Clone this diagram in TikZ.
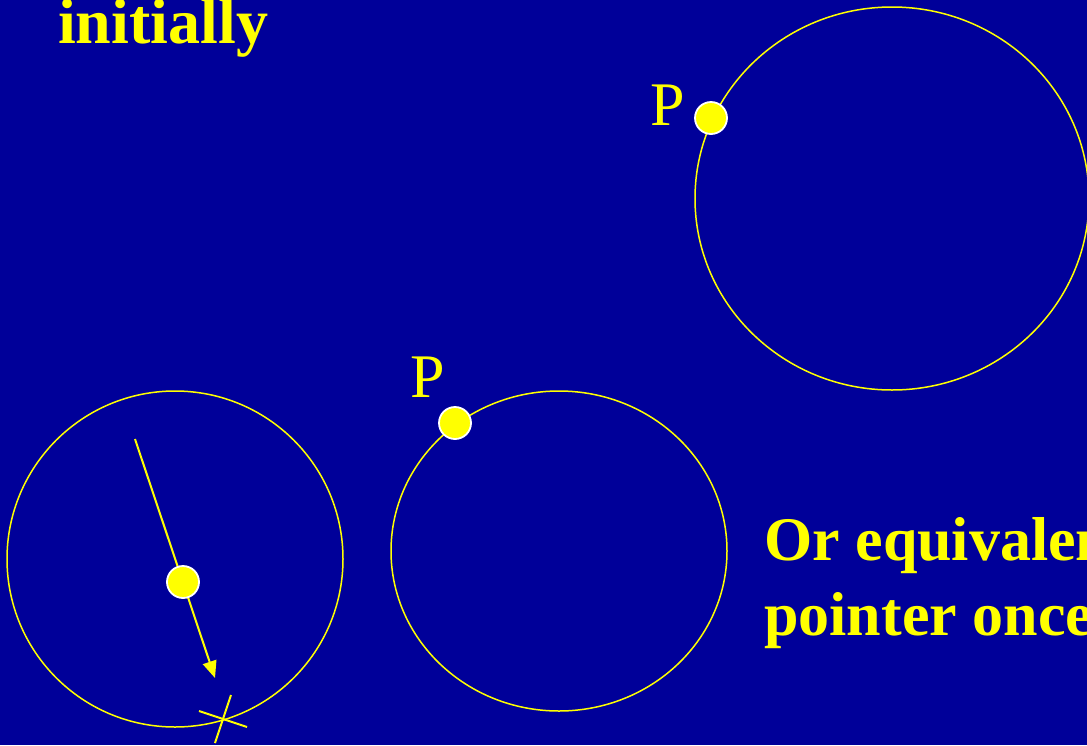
\documentclass[tikz,border=0pt]{standalone}
\usepackage{fontspec}
\setmainfont{Liberation Serif}
\usetikzlibrary{arrows.meta}
\definecolor{bgblue}{RGB}{0,0,153}
\definecolor{ylw}{RGB}{255,255,0}
\tikzset{
  orbit/.style={draw=ylw, line width=1.5pt, fill=none},
  dot/.style={circle, fill=ylw, draw=white, line width=1.8pt, minimum size=32pt, inner sep=0pt},
  plabel/.style={text=ylw, font=\fontsize{62}{62}\selectfont, inner sep=0pt},
  bigtext/.style={text=ylw, font=\bfseries\fontsize{64}{75}\selectfont, inner sep=0pt, anchor=base west},
  lowtext/.style={bigtext, font=\bfseries\fontsize{62}{75}\selectfont},
  ptr/.style={draw=ylw, line width=2pt, -{Triangle[length=17pt,width=14pt]}},
  crossline/.style={draw=ylw, line width=2pt}
}
\begin{document}
\begin{tikzpicture}[x=1pt,y=-1pt]
\useasboundingbox (0,0) rectangle (1087,745);
\fill[bgblue] (0,0) rectangle (1087,745);
\clip (0,0) rectangle (1087,745);
% ellipses
\draw[orbit] (892,198.5) ellipse [x radius=197, y radius=191.5];
\draw[orbit] (559,551) ellipse [x radius=168, y radius=160];
\draw[orbit] (175,559) ellipse [x radius=168, y radius=168];
% texts
\node[bigtext] (t1) at (58,43) {initially};
\node[lowtext] (t2) at (764,560) {Or equivalent};
\node[lowtext] (t3) at (764,635) {pointer once};
% P labels
\node[plabel] (p1) at (668,105) {P};
\node[plabel] (p2) at (428,377) {P};
% pointer
\coordinate (ptrs) at (135,439);
\coordinate (ptre) at (215,678);
\draw[ptr] (ptrs) -- (ptre);
% dots
\node[dot] (d1) at (711,118) {};
\node[dot] (d2) at (455,423) {};
\node[dot] (d3) at (183,582) {};
% cross
\coordinate (c1a) at (199,711);
\coordinate (c1b) at (247,727);
\coordinate (c2a) at (231,695);
\coordinate (c2b) at (215,743);
\draw[crossline] (c1a) -- (c1b);
\draw[crossline] (c2a) -- (c2b);
\end{tikzpicture}
\end{document}
